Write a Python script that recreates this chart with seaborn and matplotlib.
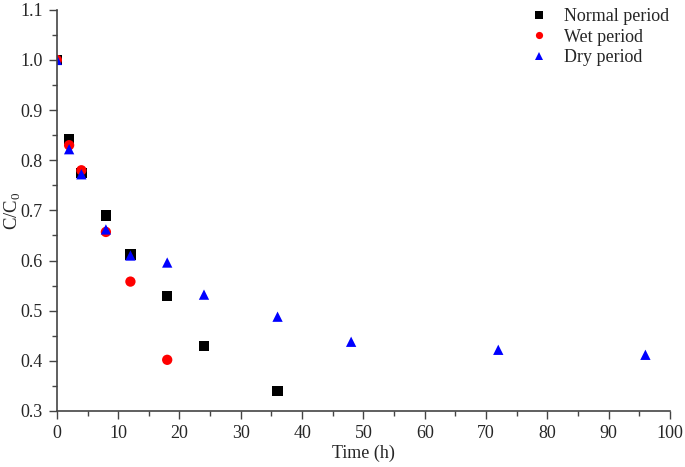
import numpy as np
import pandas as pd
import matplotlib
matplotlib.use("Agg")
import matplotlib.pyplot as plt
import seaborn as sns
from matplotlib.ticker import MultipleLocator

normal_t = [0, 2, 4, 8, 12, 18, 24, 36]
normal_c = [1.0, 0.842, 0.775, 0.690, 0.612, 0.529, 0.430, 0.340]
wet_t = [0, 2, 4, 8, 12, 18]
wet_c = [1.0, 0.830, 0.780, 0.657, 0.558, 0.402]
dry_t = [0, 2, 4, 8, 12, 18, 24, 36, 48, 72, 96]
dry_c = [1.0, 0.822, 0.772, 0.662, 0.610, 0.596, 0.532, 0.488, 0.438, 0.422, 0.412]
series = ["Normal period", "Wet period", "Dry period"]

df = pd.concat([
    pd.DataFrame({"t": normal_t, "c": normal_c, "s": series[0]}),
    pd.DataFrame({"t": wet_t, "c": wet_c, "s": series[1]}),
    pd.DataFrame({"t": dry_t, "c": dry_c, "s": series[2]}),
])

sns.set_style("ticks")
plt.rcParams["font.family"] = ["Liberation Serif", "DejaVu Serif"]
plt.rcParams["mathtext.fontset"] = "custom"
plt.rcParams["mathtext.rm"] = "Liberation Serif"

fig = plt.figure(figsize=(6.85, 4.67), dpi=100)
ax = fig.add_axes([0.083, 0.12, 0.895, 0.859])
sns.scatterplot(data=df, x="t", y="c", hue="s", style="s",
                palette={series[0]: "black", series[1]: "red", series[2]: "blue"},
                markers={series[0]: "s", series[1]: "o", series[2]: "^"},
                s=55, linewidth=0, ax=ax)
ax.set_xlim(0, 100)
ax.set_ylim(0.3, 1.1)
ax.xaxis.set_major_locator(MultipleLocator(10))
ax.xaxis.set_minor_locator(MultipleLocator(5))
ax.yaxis.set_major_locator(MultipleLocator(0.1))
ax.yaxis.set_minor_locator(MultipleLocator(0.05))
ax.yaxis.set_major_formatter(matplotlib.ticker.FormatStrFormatter("%.1f"))
ax.tick_params(which="major", length=6, width=1, labelsize=13, color="#444444", pad=4)
ax.tick_params(which="minor", length=3.5, width=1, color="#444444")
for sp in ["top", "right"]:
    ax.spines[sp].set_visible(False)
for sp in ["left", "bottom"]:
    ax.spines[sp].set_color("#444444")
    ax.spines[sp].set_linewidth(1.2)
ax.set_xlabel("Time (h)", fontsize=13, labelpad=2)
ax.set_ylabel("C/C$_\\mathregular{0}$", fontsize=13.5)
ax.yaxis.set_label_coords(-0.056, 0.5)
leg = ax.legend(loc="upper left", frameon=False, fontsize=13, handletextpad=0.4,
                bbox_to_anchor=(0.73, 1.045), labelspacing=0.2, markerscale=0.7)
leg.set_title(None)
fig.savefig("out.png", dpi=100)
